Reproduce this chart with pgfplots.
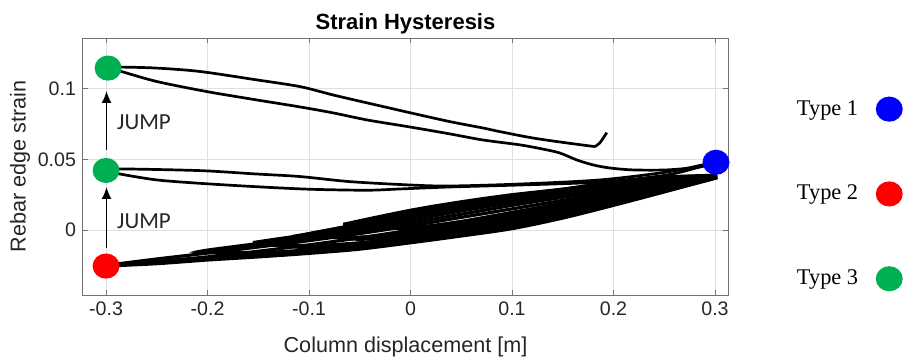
\documentclass[border=0pt]{standalone}
\usepackage{fontspec}
\setmainfont{Liberation Sans}
\newfontfamily\legfont{Liberation Serif}
\newfontfamily\jumpfont{Carlito}
\usepackage{pgfplots}
\pgfplotsset{compat=1.18}
\usetikzlibrary{arrows.meta}
\definecolor{tgreen}{RGB}{0,176,80}
\definecolor{tblue}{RGB}{0,0,255}
\definecolor{tred}{RGB}{255,0,0}
\begin{document}
\begin{tikzpicture}
\useasboundingbox (-41.5pt,-33pt) rectangle (411pt,147.5pt);
\begin{axis}[
  at={(0,0)}, anchor=south west,
  scale only axis, width=322.5pt, height=128.5pt,
  xmin=-0.3227, xmax=0.3128, ymin=-0.046, ymax=0.136,
  xtick={-0.3,-0.2,-0.1,0,0.1,0.2,0.3},
  xticklabels={-0.3,-0.2,-0.1,0,0.1,0.2,0.3},
  ytick={0,0.05,0.1},
  yticklabels={0,0.05,0.1},
  grid=major,
  grid style={black!12, line width=0.4pt},
  axis line style={black!55, line width=0.5pt},
  tick style={black!55, line width=0.5pt},
  major tick length=2.5pt,
  tick label style={font=\fontsize{9.8}{11}\selectfont, text=black!85},
  title={\textbf{Strain Hysteresis}},
  title style={font=\fontsize{11}{13}\selectfont, at={(axis description cs:0.5,1.008)}, anchor=center},
  xlabel={Column displacement [m]},
  ylabel={Rebar edge strain},
  label style={font=\fontsize{10.8}{12}\selectfont, text=black!85},
  xlabel style={at={(axis description cs:0.5,-0.2023)}, anchor=center},
  ylabel style={at={(axis description cs:-0.0977,0.5)}, anchor=center},
  clip mode=individual,
  legend plot pos=right,
  legend cell align=left,
  legend style={draw=none, fill=none, font=\legfont\fontsize{11.2}{13}\selectfont,
    at={(axis description cs:1.100,0.775)}, anchor=north west,
    row sep=29.5pt, column sep=7.5pt, inner sep=0pt},
  every axis plot/.append style={line width=1.35pt, black},
  bundle/.style={smooth, tension=0.5, forget plot, line width=1.6pt},
]
% ---- top loop (Type 3, upper) ----
\addplot[smooth, tension=0.5, forget plot] coordinates {
(0.2998,0.0475)(0.285,0.0447)(0.2525,0.0426)(0.219,0.0426)(0.196,0.0440)(0.180,0.0461)
(0.164,0.0496)(0.147,0.0546)(0.130,0.0574)(0.108,0.0603)(0.0712,0.0638)(0.0387,0.0681)
(-0.0007,0.0730)(-0.043,0.0780)(-0.0765,0.0830)(-0.109,0.0872)(-0.152,0.0922)
(-0.201,0.0981)(-0.250,0.1052)(-0.285,0.1123)(-0.298,0.1149)};
\addplot[smooth, tension=0.5, forget plot] coordinates {
(-0.298,0.1152)(-0.285,0.1154)(-0.250,0.1147)(-0.2076,0.1123)(-0.152,0.1064)(-0.109,0.1016)
(-0.0765,0.0957)(-0.043,0.0901)(0,0.0830)(0.0387,0.0768)(0.0712,0.0723)(0.088,0.0697)
(0.1205,0.0652)(0.154,0.0617)(0.1816,0.0591)};
\addplot[smooth, tension=0.4, forget plot] coordinates {
(0.1816,0.0591)(0.1865,0.0617)(0.1934,0.0690)};
% ---- middle loop (Type 3, lower) ----
\addplot[smooth, tension=0.5, forget plot] coordinates {
(0.298,0.0470)(0.292,0.0461)(0.2525,0.0390)(0.1865,0.0340)(0.1077,0.0319)(0.0387,0.0305)
(-0.0105,0.0291)(-0.043,0.0282)(-0.099,0.0289)(-0.152,0.0307)(-0.2076,0.0331)
(-0.250,0.0355)(-0.2864,0.0397)(-0.3,0.0420)};
\addplot[smooth, tension=0.5, forget plot] coordinates {
(-0.3,0.0425)(-0.2864,0.0433)(-0.2076,0.0421)(-0.152,0.0397)(-0.109,0.0379)(-0.0598,0.0343)
(0,0.0319)(0.0387,0.0312)(0.1077,0.0326)(0.1865,0.0355)(0.2525,0.0411)(0.292,0.0468)(0.298,0.0475)};
% ---- bottom bundle (Type 2 cycles) ----
\addplot[bundle] coordinates {
(0.302,0.0375)(0.25,0.0325)(0.2,0.0270)(0.15,0.0210)(0.1,0.0150)(0.05,0.0090)(0,0.0030)
(-0.05,-0.0025)(-0.1,-0.0075)(-0.15,-0.0120)(-0.2,-0.0163)(-0.25,-0.0205)(-0.3,-0.0250)};
\addplot[bundle] coordinates {
(-0.3,-0.0255)(-0.25,-0.0238)(-0.2,-0.0212)(-0.15,-0.0190)(-0.1,-0.0165)(-0.05,-0.0135)
(0,-0.0090)(0.05,-0.0042)(0.1,0.0010)(0.15,0.0085)(0.2,0.0175)(0.25,0.0270)(0.302,0.0370)};
\addplot[bundle] coordinates {
(0.302,0.0372)(0.25,0.0315)(0.2,0.0255)(0.15,0.0190)(0.1,0.0125)(0.05,0.0060)(0,0.0000)
(-0.05,-0.0055)(-0.1,-0.0105)(-0.15,-0.0150)(-0.2,-0.0190)(-0.25,-0.0222)(-0.3,-0.0252)};
\addplot[bundle] coordinates {
(-0.3,-0.0255)(-0.25,-0.0228)(-0.2,-0.0200)(-0.15,-0.0175)(-0.1,-0.0148)(-0.05,-0.0115)
(0,-0.0072)(0.05,-0.0025)(0.1,0.0030)(0.15,0.0105)(0.2,0.0190)(0.25,0.0280)(0.302,0.0372)};
\addplot[bundle] coordinates {
(0.302,0.0378)(0.25,0.0345)(0.2,0.0300)(0.15,0.0250)(0.1,0.0195)(0.05,0.0135)(0,0.0070)
(-0.05,0.0010)(-0.1,-0.0045)(-0.15,-0.0095)(-0.2,-0.0142)(-0.2,-0.0150)(-0.15,-0.0160)
(-0.1,-0.0140)(-0.05,-0.0105)(0,-0.0060)(0.05,-0.0010)(0.1,0.0050)(0.15,0.0125)
(0.2,0.0210)(0.25,0.0295)(0.302,0.0375)};
\addplot[bundle] coordinates {
(0.302,0.0376)(0.25,0.0335)(0.2,0.0285)(0.15,0.0232)(0.1,0.0175)(0.05,0.0112)(0,0.0050)
(-0.05,-0.0008)(-0.1,-0.0060)(-0.15,-0.0105)(-0.2,-0.0150)(-0.2,-0.0158)(-0.15,-0.0180)
(-0.1,-0.0156)(-0.05,-0.0125)(0,-0.0080)(0.05,-0.0032)(0.1,0.0020)(0.15,0.0095)
(0.2,0.0182)(0.25,0.0275)(0.302,0.0372)};
\addplot[bundle] coordinates {
(0.302,0.0380)(0.25,0.0360)(0.2,0.0320)(0.15,0.0270)(0.1,0.0220)(0.05,0.0160)(0,0.0095)
(-0.05,0.0030)(-0.1,-0.0030)(-0.15,-0.0083)(-0.15,-0.0090)(-0.1,-0.0110)(-0.05,-0.0090)
(0,-0.0050)(0.05,0.0000)(0.1,0.0065)(0.15,0.0140)(0.2,0.0225)(0.25,0.0305)(0.302,0.0375)};
\addplot[bundle] coordinates {
(0.302,0.0382)(0.25,0.0352)(0.2,0.0310)(0.15,0.0262)(0.1,0.0208)(0.05,0.0148)(0,0.0085)
(-0.05,0.0022)(-0.1,-0.0035)(-0.15,-0.0088)(-0.15,-0.0095)(-0.1,-0.0125)(-0.05,-0.0100)
(0,-0.0055)(0.05,-0.0005)(0.1,0.0058)(0.15,0.0132)(0.2,0.0218)(0.25,0.0300)(0.302,0.0376)};
\addplot[bundle] coordinates {
(0.302,0.0385)(0.25,0.0370)(0.2,0.0335)(0.15,0.0285)(0.1,0.0240)(0.05,0.0185)(0,0.0120)
(-0.05,0.0045)(-0.105,-0.0035)(-0.105,-0.0042)(-0.05,-0.0050)(0,-0.0020)(0.05,0.0030)
(0.1,0.0095)(0.15,0.0165)(0.2,0.0245)(0.25,0.0315)(0.302,0.0378)};
\addplot[bundle] coordinates {
(0.302,0.0384)(0.25,0.0366)(0.2,0.0328)(0.15,0.0280)(0.1,0.0232)(0.05,0.0175)(0,0.0110)
(-0.05,0.0040)(-0.1,-0.0025)(-0.1,-0.0035)(-0.05,-0.0065)(0,-0.0035)(0.05,0.0015)
(0.1,0.0080)(0.15,0.0155)(0.2,0.0238)(0.25,0.0312)(0.302,0.0378)};
\addplot[bundle] coordinates {
(0.302,0.0388)(0.25,0.0375)(0.2,0.0340)(0.15,0.0290)(0.1,0.0250)(0.05,0.0200)(0,0.0140)
(-0.06,0.0050)(-0.06,0.0040)(0,0.0020)(0.05,0.0060)(0.1,0.0120)(0.15,0.0185)
(0.2,0.0260)(0.25,0.0325)(0.302,0.0380)};
\addplot[bundle] coordinates {
(0.302,0.0386)(0.25,0.0372)(0.2,0.0338)(0.15,0.0288)(0.1,0.0245)(0.05,0.0195)(0,0.0132)
(-0.05,0.0060)(-0.05,0.0052)(0,0.0005)(0.05,0.0045)(0.1,0.0108)(0.15,0.0175)
(0.2,0.0252)(0.25,0.0320)(0.302,0.0379)};
% ---- annotations ----
\draw[black, line width=0.8pt, -{Latex[length=6pt,width=5pt]}] (axis cs:-0.2995,0.0567) -- (axis cs:-0.2995,0.0985);
\draw[black, line width=0.8pt, -{Latex[length=6pt,width=5pt]}] (axis cs:-0.2995,-0.0128) -- (axis cs:-0.2995,0.0305);
\node[anchor=west, inner sep=0pt, font=\jumpfont\fontsize{11.5}{13}\selectfont, text=black!85] at (axis cs:-0.2894,0.0766) {JUMP};
\node[anchor=west, inner sep=0pt, font=\jumpfont\fontsize{11.5}{13}\selectfont, text=black!85] at (axis cs:-0.2894,0.0064) {JUMP};
% ---- type markers ----
\addplot[only marks, mark=*, mark size=5.6pt, color=tblue, mark options={draw=tblue, fill=tblue, xscale=1.08}] coordinates {(0.301,0.0480)};
\addlegendentry{Type 1}
\addplot[only marks, mark=*, mark size=5.6pt, color=tred, mark options={draw=tred, fill=tred, xscale=1.08}] coordinates {(-0.3,-0.0255)};
\addlegendentry{Type 2}
\addplot[only marks, mark=*, mark size=5.6pt, color=tgreen, mark options={draw=tgreen, fill=tgreen, xscale=1.08}] coordinates {(-0.298,0.1147) (-0.3,0.0422)};
\addlegendentry{Type 3}
\end{axis}
\end{tikzpicture}
\end{document}
